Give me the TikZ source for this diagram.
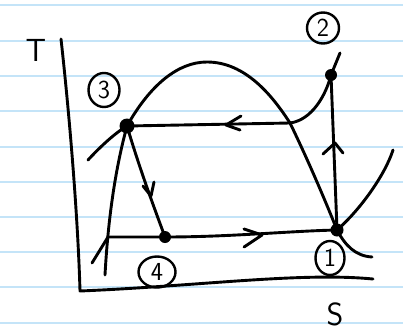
\documentclass[tikz,border=0pt]{standalone}
\usetikzlibrary{shapes.geometric}
\definecolor{paperblue}{RGB}{196,228,248}
\begin{document}
\begin{tikzpicture}[x=1pt,y=-1pt, line cap=round, line join=round,
  ink/.style={line width=2.9pt, black},
  rule/.style={line width=2.2pt, color=paperblue},
  dot/.style={circle, fill=black, inner sep=0pt, minimum size=#1},
  dot/.default=12pt,
  lab/.style={ellipse, draw, line width=2.4pt, inner sep=0pt, minimum width=32pt, minimum height=31pt, font=\sffamily\fontsize{26}{26}\selectfont},
  axlab/.style={font=\sffamily\fontsize{32}{32}\selectfont, inner sep=0pt}
]
\useasboundingbox (0,0) rectangle (403,332);
\foreach \y in {5,41,76,111,147,182,217,252,287,323} \draw[rule] (0,\y) -- (403,\y);

% axes
\coordinate (ttop) at (61,39);
\coordinate (orig) at (80,291);
\coordinate (send) at (373,279);
\draw[ink] (ttop) .. controls (70,120) and (78,220) .. (orig)
  .. controls (200,286) and (300,272) .. (send);
\node[axlab] (T) at (36,50) {T};
\node[axlab] (S) at (335,314) {S};

% state points
\node[dot=15pt] (p3) at (127,126) {};
\node[dot=12pt] (p2) at (331,75) {};
\node[dot=13pt] (p1) at (337,230) {};
\node[dot=12pt] (p4) at (165,237) {};

% dome
\coordinate (dl) at (88,160);
\coordinate (dtop) at (207,62);
\coordinate (dx) at (290,123);
\coordinate (dr) at (372,257);
\draw[ink] (dl) .. controls (100,147) and (115,133) .. (p3.center)
  .. controls (150,85) and (178,62) .. (dtop)
  .. controls (245,62) and (272,95) .. (dx)
  .. controls (308,160) and (325,200) .. (p1.center)
  .. controls (345,245) and (355,256) .. (dr);

% high pressure line 3 - 2
\coordinate (p2top) at (340,53);
\draw[ink] (p3.center) -- (dx) .. controls (312,120) and (326,95) .. (p2.center) -- (p2top);
\draw[ink] (241,116) -- (226,125) -- (240,130);

% 2 - 1 compression
\draw[ink] (p2.center) -- (p1.center);
\draw[ink] (323,154) -- (335,143) -- (343,153);

% 3 - 4 expansion
\draw[ink] (p3.center) .. controls (140,170) and (155,210) .. (p4.center);
\draw[ink] (143,186) -- (151,196) -- (154,182);

% low pressure line 4 - 1
\coordinate (lstart) at (108,237);
\draw[ink] (lstart) -- (p4.center) .. controls (230,237) and (290,231) .. (p1.center);
\draw[ink] (244,229) -- (262,235) -- (244,247);

% liquid line
\coordinate (lq) at (105,275);
\draw[ink] (p3.center) .. controls (115,170) and (108,220) .. (lq);
\coordinate (tick) at (92,263);
\draw[ink] (tick) -- (lstart);

% superheated isobar
\coordinate (sh) at (393,150);
\draw[ink] (p1.center) .. controls (360,210) and (385,175) .. (sh);

% circled labels
\node[lab] (l2) at (323,28) {2};
\node[lab, minimum width=31pt, minimum height=34pt] (l3) at (104,90) {3};
\node[lab, minimum width=37pt, minimum height=31pt] (l4) at (157,272) {4};
\node[lab, minimum width=29pt, minimum height=34pt] (l1) at (330,258) {1};
\end{tikzpicture}
\end{document}
